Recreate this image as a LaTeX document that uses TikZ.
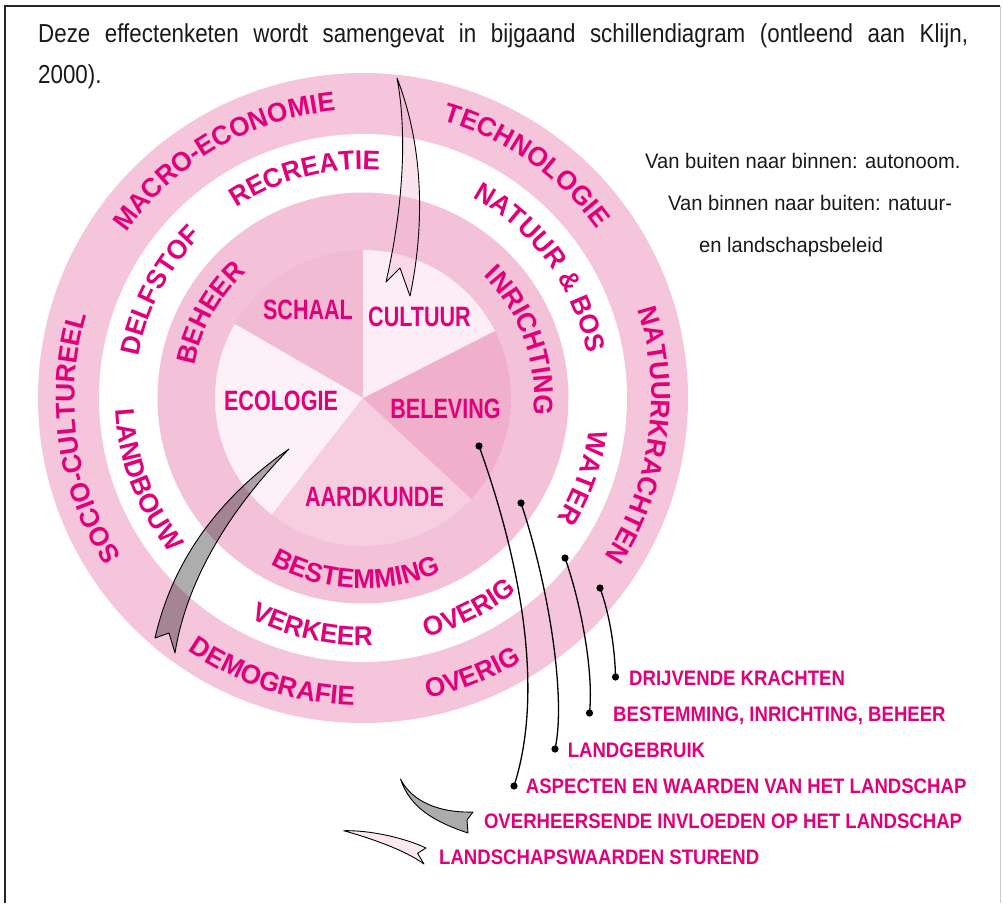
\documentclass[tikz,border=0pt]{standalone}
\usepackage{fontspec}
\setmainfont{Liberation Sans}
\newfontfamily\pief[FakeStretch=0.77]{Liberation Sans}
\newfontfamily\ringf[FakeStretch=0.97]{Liberation Sans}
\newfontfamily\legf[FakeStretch=0.885]{Liberation Sans}
\newfontfamily\blkf[FakeStretch=0.96]{Liberation Sans}
\newfontfamily\headf[FakeStretch=0.86]{Liberation Sans}
\usetikzlibrary{decorations.text}
\definecolor{mag}{RGB}{226,0,122}
\definecolor{ink}{RGB}{25,25,25}
\definecolor{cOuter}{RGB}{244,197,219}
\definecolor{cInner}{RGB}{243,194,216}
\definecolor{cSchaal}{RGB}{242,187,212}
\definecolor{cCult}{RGB}{253,238,245}
\definecolor{cBel}{RGB}{240,176,204}
\definecolor{cAard}{RGB}{246,206,224}
\definecolor{cEco}{RGB}{253,240,246}
\definecolor{arrowpink}{RGB}{240,170,200}
\definecolor{legpink}{RGB}{252,232,241}
\definecolor{leggrey}{RGB}{172,172,172}
\definecolor{framegrey}{RGB}{205,205,205}
\newcommand\ringfmt{\ringf\bfseries\fontsize{27}{27}\selectfont\color{mag}}
\newcommand\ringcw[3]{\path[decorate,decoration={text along path,text align=center,text={|\ringfmt|#3}}] ({#2+40}:#1) arc[start angle={#2+40},end angle={#2-40},radius=#1];}
\newcommand\ringccw[3]{\path[decorate,decoration={text along path,text align=center,text={|\ringfmt|#3}}] ({#2-40}:#1) arc[start angle={#2-40},end angle={#2+40},radius=#1];}
\begin{document}
\begin{tikzpicture}[x=1pt,y=1pt,
  pielbl/.style={font=\pief\bfseries\fontsize{28}{28}\selectfont, text=mag, inner sep=0},
  leglbl/.style={font=\legf\bfseries\fontsize{21}{21}\selectfont, text=mag, inner sep=0, anchor=base west},
  blktxt/.style={font=\blkf\fontsize{21}{21}\selectfont, text=ink, inner sep=0, anchor=base west},
  headtxt/.style={font=\headf\fontsize{26}{26}\selectfont, text=ink, inner sep=0, anchor=base west},
  leader/.style={line width=1.3pt, black},
  bigarrow/.style={draw=black, line width=0.9pt, line join=round}]
\useasboundingbox (-363,-505) rectangle (640,398);
% rings
\fill[cOuter] (0,0) circle[radius=325];
\fill[white] (0,0) circle[radius=264];
\fill[cInner] (0,0) circle[radius=205.5];
% pie slices
\fill[cSchaal] (0,0) -- (90:148) arc[start angle=90,end angle=150,radius=148] -- cycle;
\fill[cEco] (0,0) -- (150:148) arc[start angle=150,end angle=232,radius=148] -- cycle;
\fill[cAard] (0,0) -- (232:148) arc[start angle=232,end angle=317,radius=148] -- cycle;
\fill[cBel] (0,0) -- (317:148) arc[start angle=317,end angle=387,radius=148] -- cycle;
\fill[cCult] (0,0) -- (27:148) arc[start angle=27,end angle=90,radius=148] -- cycle;
% outer ring texts
\ringcw{288.5}{120.25}{MACRO-ECONOMIE}
\ringcw{288.5}{54.85}{TECHNOLOGIE}
\ringcw{288.5}{-7.75}{NATUURKRACHTEN}
\ringcw{288.5}{188.25}{SOCIO-CULTUREEL}
\ringccw{307.5}{-108.15}{DEMOGRAFIE}
\ringccw{307.5}{-68.4}{OVERIG}
% white ring texts
\ringcw{228.5}{104.75}{RECREATIE}
\ringcw{228.5}{36.3}{NATUUR {\&} BOS}
\ringcw{228.5}{-19.9}{WATER}
\ringcw{228.5}{152.15}{DELFSTOF}
\ringccw{247.5}{-63.3}{OVERIG}
\ringccw{247.5}{-102.4}{VERKEER}
\ringccw{247.5}{200.75}{LANDBOUW}
% inner ring texts
\ringcw{171.5}{150.95}{BEHEER}
\ringcw{171.5}{19.85}{INRICHTING}
\ringccw{190.5}{-92.45}{BESTEMMING}
% everything else in pixel coordinates
\begin{scope}[shift={(-363,398)},yscale=-1]
  % frame
  \draw[line width=2pt, black!85] (5,903) -- (5,6) -- (1000,6);
  \draw[line width=1pt, framegrey] (1000,6) -- (1000,903);
  % pie labels
  \node[pielbl] (schaal) at (308,310) {SCHAAL};
  \node[pielbl] (cultuur) at (419.5,317) {CULTUUR};
  \node[pielbl] (ecologie) at (281,400.5) {ECOLOGIE};
  \node[pielbl] (beleving) at (445.5,408.5) {BELEVING};
  \node[pielbl] (aardkunde) at (374.5,497) {AARDKUNDE};
  % header text
  \node[headtxt] (head1) at (38,43) {\makebox[930pt][s]{Deze effectenketen wordt samengevat in bijgaand schillendiagram (ontleend aan Klijn,}};
  \node[headtxt] (head2) at (38,83) {2000).};
  \node[blktxt] (side1) at (645,168) {Van buiten naar binnen: autonoom.};
  \node[blktxt] (side2) at (668,210) {Van binnen naar buiten: natuur-};
  \node[blktxt] (side3) at (699,252) {en landschapsbeleid};
  % big arrows
  \draw[bigarrow, fill=arrowpink, fill opacity=0.3]
    (397,78) .. controls (405,120) and (407,190) .. (386,282) -- (400,268) -- (410,296)
    .. controls (424,230) and (425,150) .. (397,78) -- cycle;
  \draw[bigarrow, fill=black, fill opacity=0.32]
    (289,449) .. controls (230,490) and (175,550) .. (155,638) -- (169,633) -- (175,653)
    .. controls (185,590) and (220,520) .. (289,449) -- cycle;
  % leader lines
  \coordinate (r1) at (479,446);
  \coordinate (r2) at (521,503);
  \coordinate (r3) at (565,558);
  \coordinate (r4) at (600,588);
  \coordinate (l1) at (514,786);
  \coordinate (l2) at (555,749);
  \coordinate (l3) at (589.5,713);
  \coordinate (l4) at (615.5,677);
  \draw[leader] (r1) .. controls (520,560) and (545,690) .. (l1);
  \draw[leader] (r2) .. controls (550,590) and (566,700) .. (l2);
  \draw[leader] (r3) .. controls (580,600) and (594,670) .. (l3);
  \draw[leader] (r4) .. controls (610,615) and (615,650) .. (l4);
  \foreach \p in {r1,r2,r3,r4,l1,l2,l3,l4} \fill[black] (\p) circle[radius=3.6];
  % legend arrows
  \draw[bigarrow, fill=leggrey]
    (400.5,779) .. controls (412,802) and (440,813) .. (473,812) -- (467,820) -- (468,833)
    .. controls (435,822) and (410,808) .. (400.5,779) -- cycle;
  \draw[bigarrow, fill=legpink]
    (343.7,830.7) .. controls (370,830) and (405,838) .. (426,848) -- (417.6,853.3) -- (424,864)
    .. controls (405,850) and (370,838) .. (343.7,830.7) -- cycle;
  % legend texts
  \node[leglbl] (leg1) at (629,685) {DRIJVENDE KRACHTEN};
  \node[leglbl] (leg2) at (613,721) {BESTEMMING, INRICHTING, BEHEER};
  \node[leglbl] (leg3) at (567.6,757) {LANDGEBRUIK};
  \node[leglbl] (leg4) at (525.7,793) {ASPECTEN EN WAARDEN VAN HET LANDSCHAP};
  \node[leglbl] (leg5) at (483.8,828) {OVERHEERSENDE INVLOEDEN OP HET LANDSCHAP};
  \node[leglbl] (leg6) at (439,864) {LANDSCHAPSWAARDEN STUREND};
\end{scope}
\end{tikzpicture}
\end{document}
